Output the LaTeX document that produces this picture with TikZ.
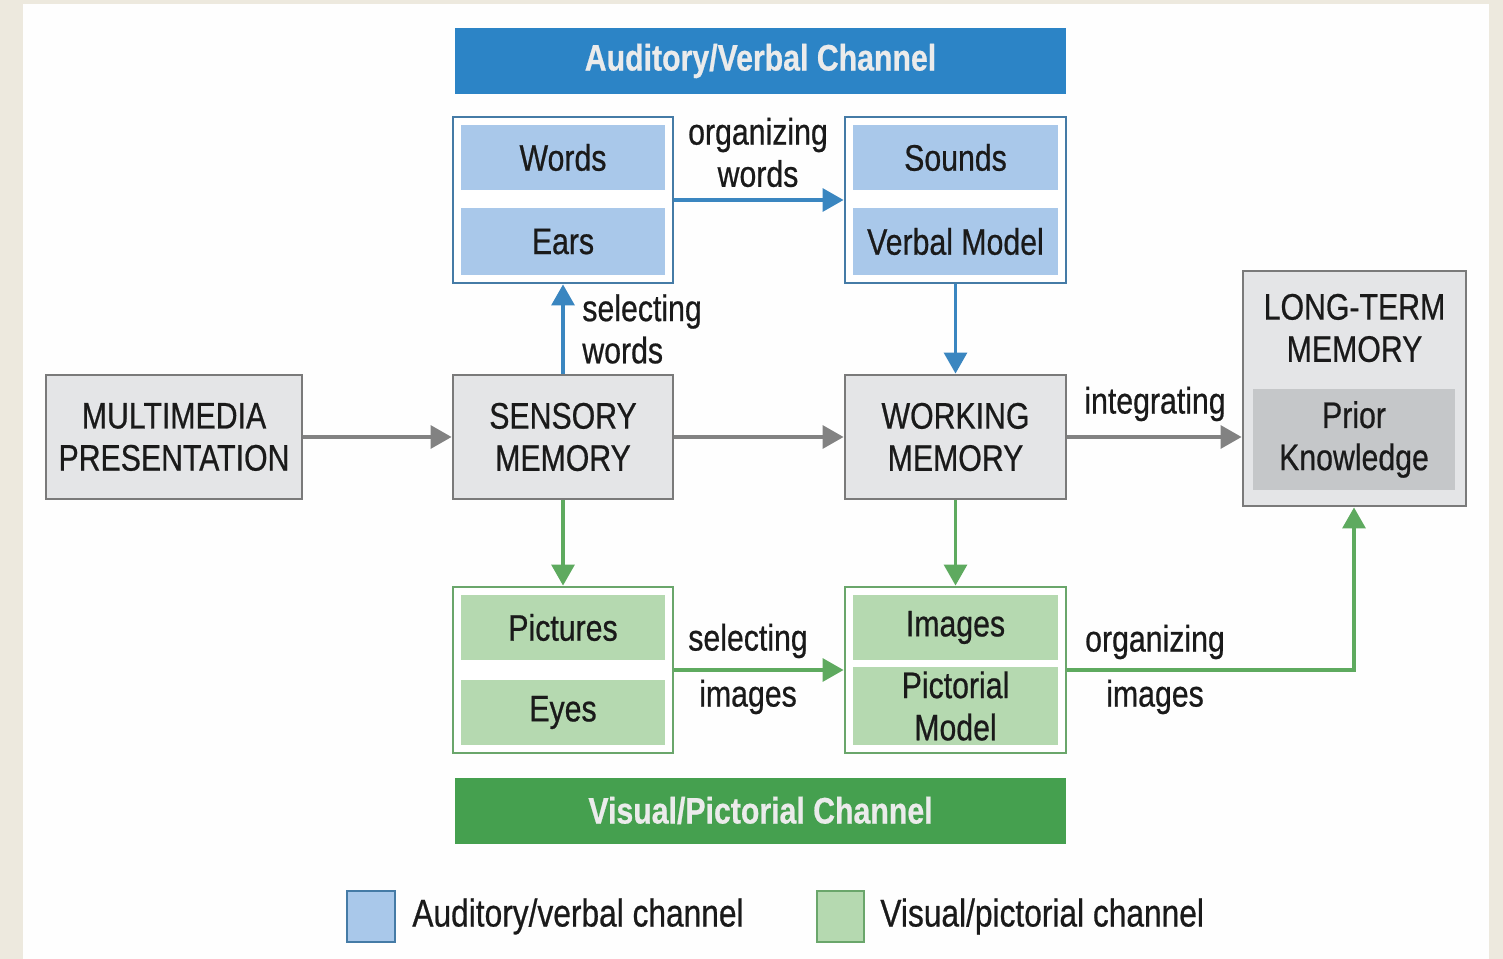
\documentclass[tikz,border=0pt]{standalone}
\usepackage{fontspec}
\setmainfont{Liberation Sans}[FakeStretch=0.82,FakeBold=0.6]
\usetikzlibrary{arrows.meta}
\definecolor{beige}{HTML}{EDE9DE}
\definecolor{panel}{HTML}{FEFEFE}
\definecolor{bluebar}{HTML}{2C84C6}
\definecolor{bluefill}{HTML}{A9C8EA}
\definecolor{blueedge}{HTML}{457BA6}
\definecolor{bluearrow}{HTML}{3A86C0}
\definecolor{greenbar}{HTML}{45A04F}
\definecolor{greenfill}{HTML}{B5D9B0}
\definecolor{greenedge}{HTML}{6AA66B}
\definecolor{greenarrow}{HTML}{5EAA5F}
\definecolor{grayfill}{HTML}{E4E5E7}
\definecolor{grayedge}{HTML}{7A7A7A}
\definecolor{priorfill}{HTML}{C5C7C9}
\definecolor{grayarrow}{HTML}{828282}
\definecolor{ink}{HTML}{1A1A1A}
\tikzset{
  txt/.style={font=\fontsize{21}{24}\selectfont, text=ink, align=center, inner sep=0pt},
  bar/.style={draw=none, font=\fontsize{21}{24}\selectfont\bfseries, text=white!92!black, inner sep=0pt, minimum width=12.22cm, minimum height=1.32cm},
  grayboxstyle/.style={txt, draw=grayedge, fill=grayfill, line width=1.6pt},
  outerblue/.style={draw=blueedge, fill=white, line width=1.6pt, inner sep=0pt},
  outergreen/.style={draw=greenedge, fill=white, line width=1.6pt, inner sep=0pt},
  innerblue/.style={txt, fill=bluefill, draw=none},
  innergreen/.style={txt, fill=greenfill, draw=none},
  conn/.style={line width=2.2pt, -{Triangle[length=12pt,width=13pt]}},
  lbl/.style={txt},
  legtxt/.style={txt, font=\fontsize{22}{25}\selectfont},
}
\begin{document}
\begin{tikzpicture}
% background
\fill[beige] (0,0) rectangle (30.06,-19.18);
\fill[panel] (0.46,-0.08) rectangle (29.78,-19.18);
\useasboundingbox (0,0) rectangle (30.06,-19.18);

% channel bars
\node[bar, fill=bluebar] (vbar) at (15.21,-1.22) {Auditory/Verbal Channel};
\node[bar, fill=greenbar] (pbar) at (15.21,-16.21) {Visual/Pictorial Channel};

% top boxes
\node[outerblue, minimum width=4.4cm, minimum height=3.32cm] (A) at (11.26,-4.0) {};
\node[innerblue, minimum width=4.08cm, minimum height=1.3cm] (words) at (11.26,-3.15) {Words};
\node[innerblue, minimum width=4.08cm, minimum height=1.34cm] (ears) at (11.26,-4.83) {Ears};
\node[outerblue, minimum width=4.42cm, minimum height=3.32cm] (B) at (19.11,-4.0) {};
\node[innerblue, minimum width=4.1cm, minimum height=1.3cm] (sounds) at (19.11,-3.15) {Sounds};
\node[innerblue, minimum width=4.1cm, minimum height=1.34cm] (verbal) at (19.11,-4.83) {Verbal Model};

% middle row
\node[grayboxstyle, minimum width=5.12cm, minimum height=2.48cm] (mp) at (3.48,-8.74) {MULTIMEDIA\\PRESENTATION};
\node[grayboxstyle, minimum width=4.4cm, minimum height=2.48cm] (sm) at (11.26,-8.74) {SENSORY\\MEMORY};
\node[grayboxstyle, minimum width=4.42cm, minimum height=2.48cm] (wm) at (19.11,-8.74) {WORKING\\MEMORY};
\node[grayboxstyle, minimum width=4.46cm, minimum height=4.7cm] (ltm) at (27.09,-7.77) {};
\node[txt] (ltmt) at (27.09,-6.56) {LONG-TERM\\MEMORY};
\node[txt, fill=priorfill, minimum width=4.04cm, minimum height=2.02cm] (prior) at (27.08,-8.79) {Prior\\Knowledge};

% bottom boxes
\node[outergreen, minimum width=4.4cm, minimum height=3.32cm] (C) at (11.26,-13.4) {};
\node[innergreen, minimum width=4.08cm, minimum height=1.3cm] (pict) at (11.26,-12.55) {Pictures};
\node[innergreen, minimum width=4.08cm, minimum height=1.3cm] (eyes) at (11.26,-14.25) {Eyes};
\node[outergreen, minimum width=4.42cm, minimum height=3.32cm] (D) at (19.11,-13.4) {};
\node[innergreen, minimum width=4.1cm, minimum height=1.3cm] (images) at (19.11,-12.55) {Images};
\node[innergreen, minimum width=4.1cm, minimum height=1.56cm] (pmodel) at (19.11,-14.12) {Pictorial\\Model};

% connectors
\draw[conn, bluearrow] (A.east |- 0,-4.0) -- (B.west |- 0,-4.0);
\draw[conn, bluearrow] (sm.north) -- (A.south);
\draw[conn, bluearrow] (B.south) -- (wm.north);
\draw[conn, grayarrow] (mp.east) -- (sm.west);
\draw[conn, grayarrow] (sm.east) -- (wm.east -| wm.west);
\draw[conn, grayarrow] (wm.east) -- (wm.east -| ltm.west);
\draw[conn, greenarrow] (sm.south) -- (C.north);
\draw[conn, greenarrow] (wm.south) -- (D.north);
\draw[conn, greenarrow] (C.east) -- (D.west);
\coordinate (bend) at (27.08,-13.4);
\draw[conn, greenarrow] (D.east) -- (bend) -- (bend |- ltm.south);

% connector labels
\node[lbl] (l1) at (15.16,-3.05) {organizing\\words};
\node[lbl, anchor=west, align=left] (l2) at (11.64,-6.58) {selecting\\words};
\node[lbl] (l3) at (23.1,-8.08) {integrating};
\node[lbl] (l4) at (14.96,-12.82) {selecting};
\node[lbl] (l5) at (14.96,-13.94) {images};
\node[lbl] (l6) at (23.1,-12.84) {organizing};
\node[lbl] (l7) at (23.1,-13.94) {images};

% legend
\node[draw=blueedge, fill=bluefill, line width=1.6pt, minimum width=0.96cm, minimum height=1.02cm, inner sep=0pt] (lgb) at (7.42,-18.33) {};
\node[legtxt, anchor=west] (lgbt) at (8.24,-18.33) {Auditory/verbal channel};
\node[draw=greenedge, fill=greenfill, line width=1.6pt, minimum width=0.94cm, minimum height=1.02cm, inner sep=0pt] (lgg) at (16.81,-18.33) {};
\node[legtxt, anchor=west] (lggt) at (17.6,-18.33) {Visual/pictorial channel};
\end{tikzpicture}
\end{document}
